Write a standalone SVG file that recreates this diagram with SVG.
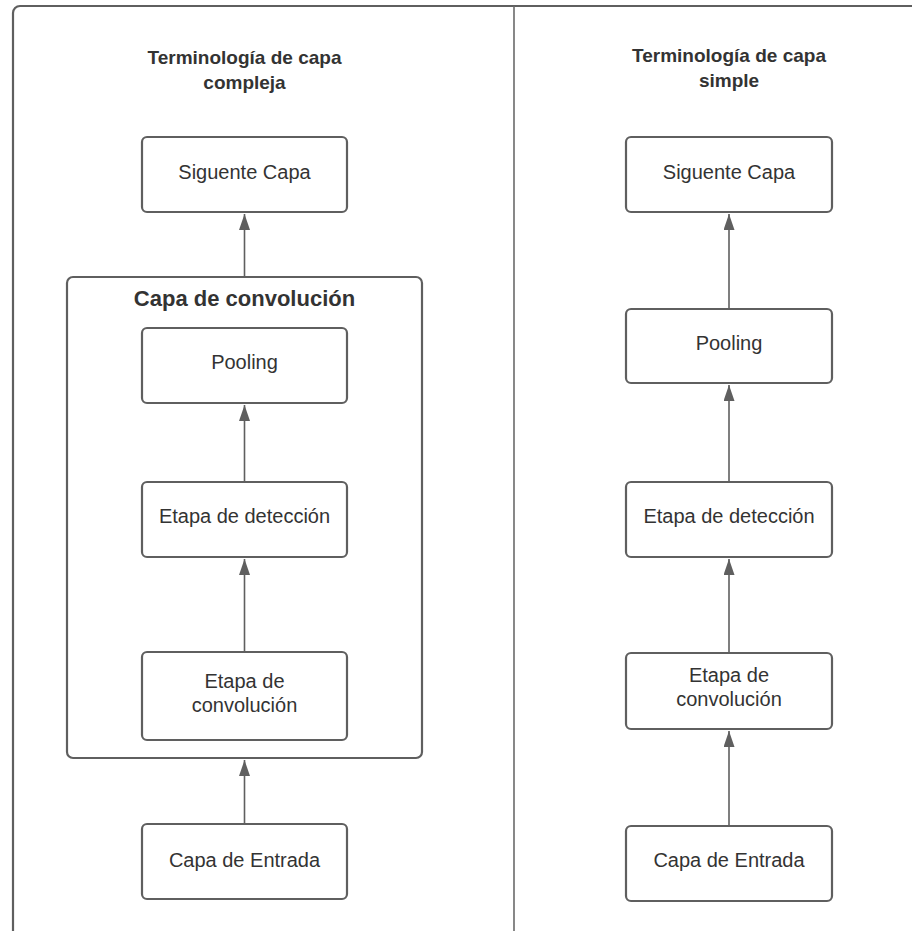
<svg xmlns="http://www.w3.org/2000/svg" width="912" height="931" viewBox="0 0 912 931">
  <style>
    .frame { fill: none; stroke: #5f5f5f; stroke-width: 2.2; }
    .divider { stroke: #6a6a6a; stroke-width: 1.6; }
    .box { fill: #ffffff; stroke: #5f5f5f; stroke-width: 2.2; }
    .group { fill: none; stroke: #5f5f5f; stroke-width: 2.2; }
    .conn { fill: none; stroke: #5f5f5f; stroke-width: 1.6; marker-end: url(#arrow); }
    .label { font-family: "Liberation Sans", Arial, sans-serif; font-size: 20px; fill: #333333; text-anchor: middle; }
    .title { font-family: "Liberation Sans", Arial, sans-serif; font-size: 19px; font-weight: bold; fill: #333333; text-anchor: middle; }
    .gtitle { font-family: "Liberation Sans", Arial, sans-serif; font-size: 22px; font-weight: bold; fill: #333333; text-anchor: middle; }
  </style>
  <defs>
    <marker id="arrow" markerUnits="userSpaceOnUse" markerWidth="16" markerHeight="11" refX="16" refY="5.5" orient="auto">
      <path d="M0,0 L16,5.5 L0,11 Z" fill="#5f5f5f"/>
    </marker>
  </defs>

  <rect x="0" y="0" width="912" height="931" fill="#ffffff"/>

  <!-- outer frame and column divider -->
  <rect class="frame" x="13" y="6" width="1000" height="1000" rx="7"/>
  <line class="divider" x1="514" y1="6" x2="514" y2="931"/>

  <!-- column titles -->
  <g id="title-left">
    <text class="title" x="244.5" y="64">Terminología de capa</text>
    <text class="title" x="244.5" y="89">compleja</text>
  </g>
  <g id="title-right">
    <text class="title" x="729" y="62">Terminología de capa</text>
    <text class="title" x="729" y="87">simple</text>
  </g>

  <!-- left column: complex-layer terminology -->
  <g id="left-next-layer">
    <rect class="box" x="142" y="137" width="205" height="75" rx="5"/>
    <text class="label" x="244.5" y="179">Siguente Capa</text>
  </g>
  <g id="left-conv-layer">
    <rect class="group" x="67" y="277" width="355" height="481" rx="6"/>
    <text class="gtitle" x="244.5" y="306">Capa de convolución</text>
  </g>
  <g id="left-pooling">
    <rect class="box" x="142" y="328" width="205" height="75" rx="5"/>
    <text class="label" x="244.5" y="369">Pooling</text>
  </g>
  <g id="left-detection">
    <rect class="box" x="142" y="482" width="205" height="75" rx="5"/>
    <text class="label" x="244.5" y="523">Etapa de detección</text>
  </g>
  <g id="left-convolution">
    <rect class="box" x="142" y="652" width="205" height="88" rx="5"/>
    <text class="label" x="244.5" y="688">Etapa de</text>
    <text class="label" x="244.5" y="712">convolución</text>
  </g>
  <g id="left-input">
    <rect class="box" x="142" y="824" width="205" height="75" rx="5"/>
    <text class="label" x="244.5" y="867">Capa de Entrada</text>
  </g>

  <!-- right column: simple-layer terminology -->
  <g id="right-next-layer">
    <rect class="box" x="626" y="137" width="206" height="75" rx="5"/>
    <text class="label" x="729" y="179">Siguente Capa</text>
  </g>
  <g id="right-pooling">
    <rect class="box" x="626" y="309" width="206" height="74" rx="5"/>
    <text class="label" x="729" y="350">Pooling</text>
  </g>
  <g id="right-detection">
    <rect class="box" x="626" y="482" width="206" height="75" rx="5"/>
    <text class="label" x="729" y="523">Etapa de detección</text>
  </g>
  <g id="right-convolution">
    <rect class="box" x="626" y="653" width="206" height="76" rx="5"/>
    <text class="label" x="729" y="682">Etapa de</text>
    <text class="label" x="729" y="706">convolución</text>
  </g>
  <g id="right-input">
    <rect class="box" x="626" y="826" width="206" height="75" rx="5"/>
    <text class="label" x="729" y="867">Capa de Entrada</text>
  </g>

  <!-- connectors -->
  <g id="connectors">
    <line class="conn" x1="244.5" y1="824" x2="244.5" y2="760"/>
    <line class="conn" x1="244.5" y1="652" x2="244.5" y2="559"/>
    <line class="conn" x1="244.5" y1="482" x2="244.5" y2="405"/>
    <line class="conn" x1="244.5" y1="277" x2="244.5" y2="214"/>

    <line class="conn" x1="729" y1="826" x2="729" y2="731"/>
    <line class="conn" x1="729" y1="653" x2="729" y2="559"/>
    <line class="conn" x1="729" y1="482" x2="729" y2="385"/>
    <line class="conn" x1="729" y1="309" x2="729" y2="214"/>
  </g>
</svg>
